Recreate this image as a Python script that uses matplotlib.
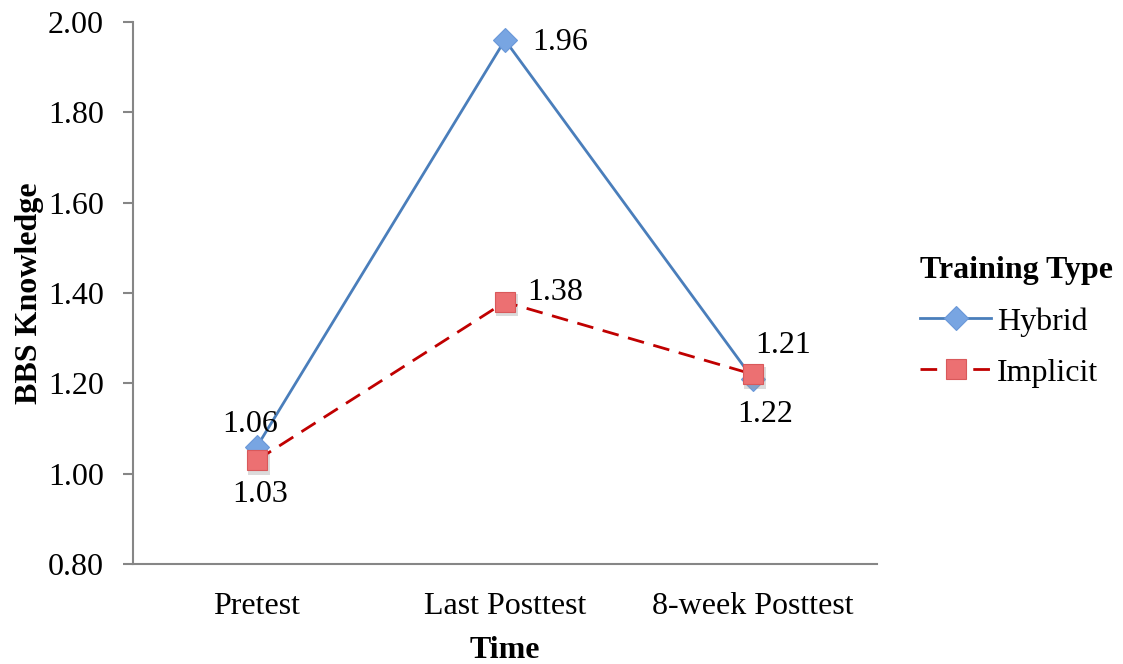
import matplotlib.pyplot as plt
from matplotlib.transforms import offset_copy

categories = ["Pretest", "Last Posttest", "8-week Posttest"]
hybrid = [1.06, 1.96, 1.21]
implicit = [1.03, 1.38, 1.22]
yticks = [0.80, 1.00, 1.20, 1.40, 1.60, 1.80, 2.00]

plt.rcParams['font.family'] = ['Liberation Serif', 'DejaVu Serif']

fig = plt.figure(figsize=(11.23, 6.64), dpi=100)
ax = fig.add_axes([0.1184, 0.1506, 0.6625, 0.8163])

x = list(range(len(categories)))
axis_grey = '#868686'
fs = 23

ax.plot(x, hybrid, color='#4A7EBB', lw=2.0, marker='D', markersize=12.5,
        markerfacecolor='#78A5E2', markeredgecolor='#6A98D8', markeredgewidth=0.8,
        label='Hybrid', zorder=3)

# soft drop shadow beneath the square markers
shadow = offset_copy(ax.transData, fig=fig, x=1.5, y=-2.5, units='points')
ax.plot(x, implicit, ls='none', marker='s', markersize=16, color='#999999',
        alpha=0.35, markeredgewidth=0, transform=shadow, zorder=3.5)
ax.plot(x, implicit, color='#C00000', lw=2.0, ls=(0, (6, 3.5)), marker='s', markersize=15,
        markerfacecolor='#EC7072', markeredgecolor='#D9595B', markeredgewidth=0.8,
        label='Implicit', zorder=4)

# value labels: (dx, dy) in points, horizontal alignment
h_off = [(-5, 16, 'center'), (20, -1.5, 'left'), (2, 24, 'left')]
i_off = [(2, -25, 'center'), (16, 6.5, 'left'), (8.6, -29, 'center')]
for xi, v, (dx, dy, ha) in zip(x, hybrid, h_off):
    ax.annotate(f"{v:.2f}", (xi, v), xytext=(dx, dy), textcoords='offset points',
                ha=ha, va='center', fontsize=fs, zorder=6)
for xi, v, (dx, dy, ha) in zip(x, implicit, i_off):
    ax.annotate(f"{v:.2f}", (xi, v), xytext=(dx, dy), textcoords='offset points',
                ha=ha, va='center', fontsize=fs, zorder=6)

ax.set_xlim(-0.5, 2.5)
ax.set_ylim(0.80, 2.00)
ax.set_yticks(yticks)
ax.set_yticklabels([f"{t:.2f}" for t in yticks])
ax.set_xticks(x)
ax.set_xticklabels(categories)
ax.tick_params(axis='y', length=7, width=1.5, color=axis_grey, labelsize=fs, pad=14)
ax.tick_params(axis='x', length=0, labelsize=fs, pad=20)

for s in ['top', 'right']:
    ax.spines[s].set_visible(False)
for s in ['left', 'bottom']:
    ax.spines[s].set_color(axis_grey)
    ax.spines[s].set_linewidth(1.5)

ax.set_xlabel('Time', fontsize=fs, fontweight='bold', labelpad=11)
ax.set_ylabel('BBS Knowledge', fontsize=fs, fontweight='bold', labelpad=3)

h1, l1 = ax.get_legend_handles_labels()
leg = fig.legend(h1, l1, title='Training Type', loc='center left',
                 bbox_to_anchor=(914 / 1123, 1 - 322 / 664), frameon=False,
                 fontsize=fs, handlelength=2.2, handletextpad=0.2,
                 labelspacing=0.68, borderpad=0.2, borderaxespad=0,
                 alignment='left')
leg.get_title().set_fontsize(fs)
leg.get_title().set_fontweight('bold')

fig.savefig('out.png', dpi=100)
